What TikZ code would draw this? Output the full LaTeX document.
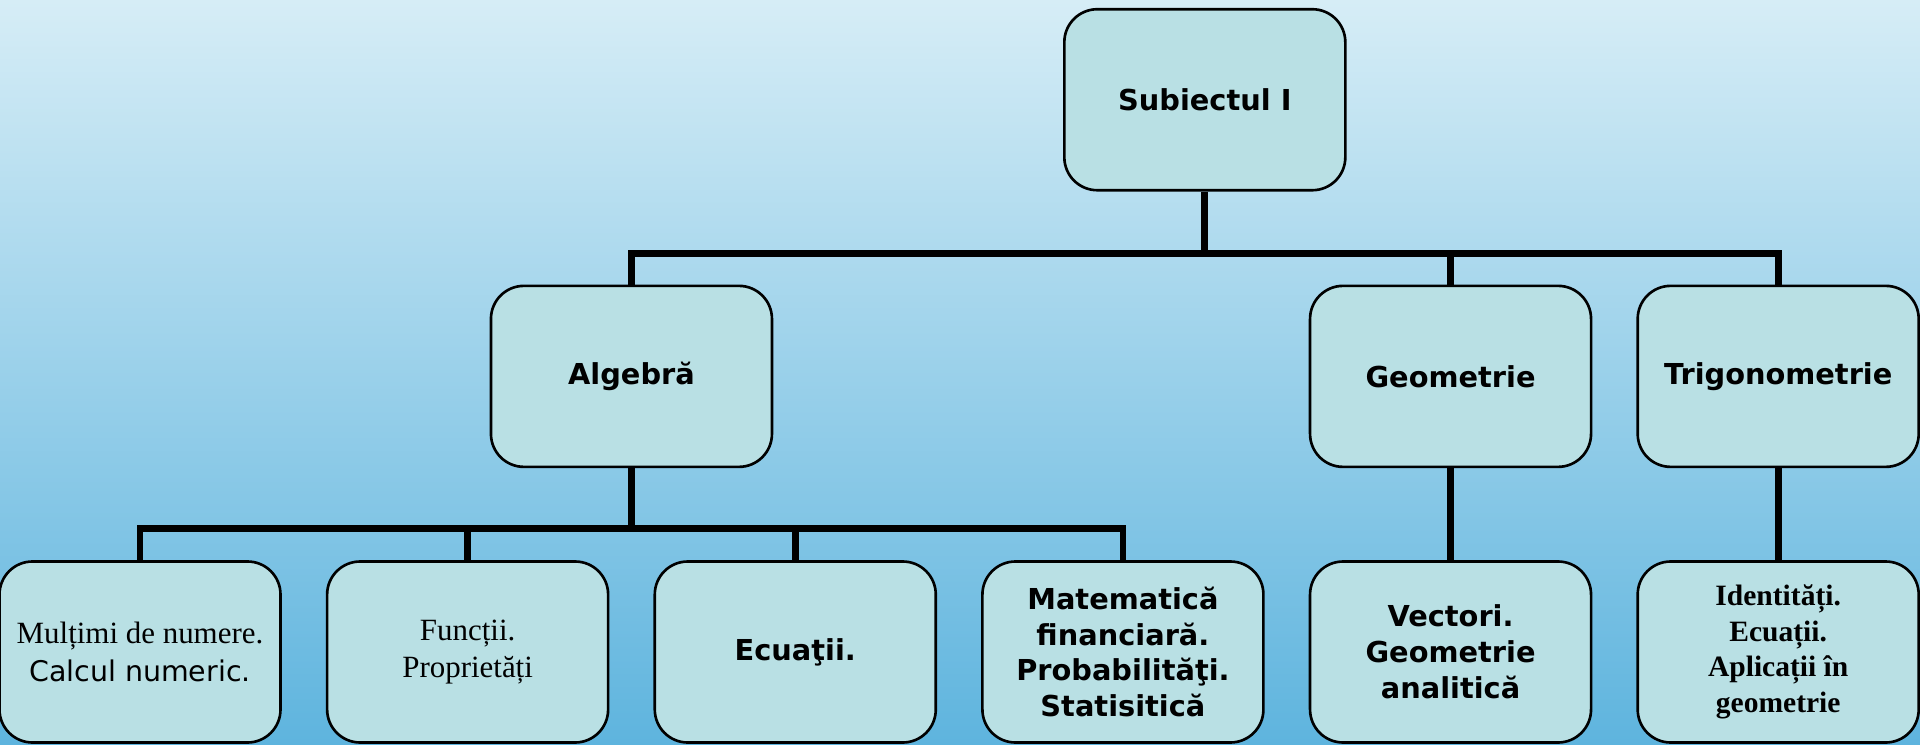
\documentclass[tikz,border=0pt]{standalone}
\usepackage{fontspec}
\setmainfont{Liberation Serif}
\newfontfamily\verdfont{DejaVu Sans}
\usepackage{tikz}
\usetikzlibrary{positioning, calc}
\definecolor{bgtop}{RGB}{214, 237, 246}
\definecolor{bgbot}{RGB}{94, 180, 222}
\definecolor{boxfill}{RGB}{185, 224, 228}

\begin{document}
\begin{tikzpicture}[
    node distance=0.44cm,
    box/.style={draw, line width=0.75pt, rounded corners=0.33cm, fill=boxfill,
                minimum width=2.81cm, minimum height=1.81cm, align=center, inner sep=2pt},
    hd/.style={box, font=\verdfont\bfseries\fontsize{8.2}{10.2}\selectfont},
    conn/.style={line width=1.9pt},
  ]
  \useasboundingbox (0,0) rectangle (19.2,-7.45);
  \shade[top color=bgtop, bottom color=bgbot] (0,0) rectangle (19.2,-7.45);

  % bottom row
  \node[box, font=\fontsize{8.8}{10.6}\selectfont] (m1) at (1.40,-6.52)
    {Mulțimi de numere.\\{\verdfont\fontsize{8.1}{10.6}\selectfont Calcul numeric.}};
  \node[box, right=of m1, font=\fontsize{8.8}{10.6}\selectfont] (m2) {Funcții.\\Proprietăți};
  \node[hd, right=of m2] (m3) {Ecuaţii.};
  \node[hd, right=of m3] (m4) {Matematică\\financiară.\\Probabilităţi.\\Statisitică};
  \node[hd, right=of m4] (vec) {Vectori.\\Geometrie\\analitică};
  \node[box, right=of vec, font=\bfseries\fontsize{8.4}{10.1}\selectfont] (id)
    {Identități.\\Ecuații.\\Aplicații în\\geometrie};

  % middle row
  \node[hd, above=0.92cm of vec] (geo) {Geometrie};
  \node[hd, above=0.92cm of id] (trig) {Trigonometrie};
  \coordinate (algx) at ($(m2)!0.5!(m3)$);
  \node[hd] (alg) at (algx |- geo) {Algebră};

  % top
  \coordinate (subx) at ($(alg.north)!0.5!(trig.north)$);
  \node[hd, above=0.93cm of subx] (sub) {Subiectul I};

  \coordinate[below=0.62cm of sub] (b1);
  \draw[conn] (sub.south) -- (b1) -| (alg.north);
  \draw[conn] (b1) -| (geo.north);
  \draw[conn] (b1) -| (trig.north);

  \coordinate[below=0.6cm of alg] (b2);
  \draw[conn] (alg.south) -- (b2);
  \foreach \n in {m1,m2,m3,m4}
    \draw[conn] (b2) -| (\n.north);
  \draw[conn] (geo.south) -- (vec.north);
  \draw[conn] (trig.south) -- (id.north);
\end{tikzpicture}
\end{document}
